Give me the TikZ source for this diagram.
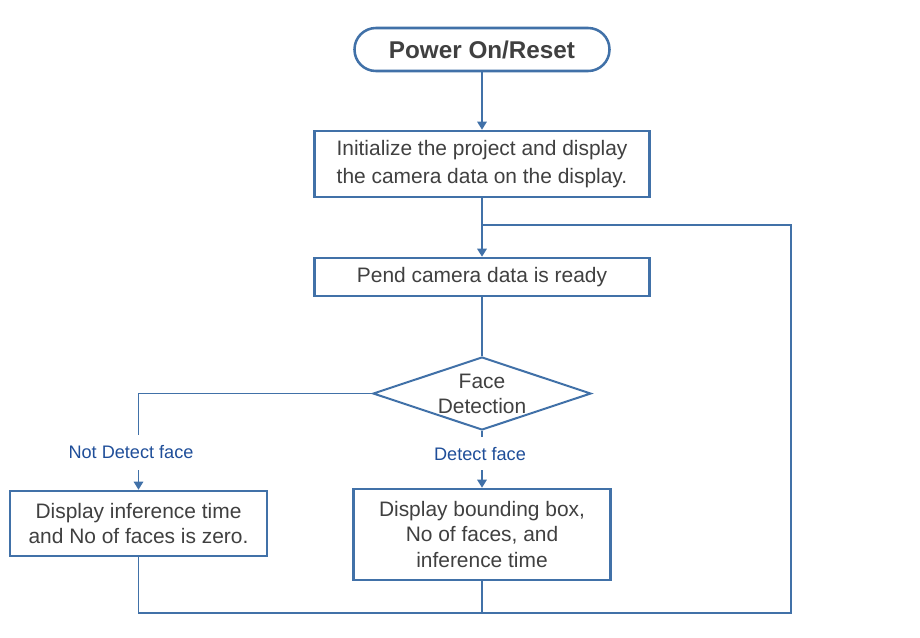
\documentclass[tikz,border=0pt]{standalone}
\usepackage{fontspec}
\setmainfont{Liberation Sans}
\usetikzlibrary{shapes.geometric,arrows.meta}
\definecolor{lineblue}{RGB}{65,113,168}
\definecolor{txtgray}{RGB}{64,64,64}
\definecolor{lblblue}{RGB}{31,78,153}
\tikzset{
  boxstyle/.style={draw=lineblue, line width=1.9pt, fill=white, text=txtgray, align=center,
    inner sep=2pt, font=\fontsize{15.7}{19}\selectfont},
  conn/.style={draw=lineblue, line width=1.3pt},
  arr/.style={conn, -{Triangle[width=7pt,length=6pt]}},
  lbl/.style={text=lblblue, font=\fontsize{13.6}{16}\selectfont, inner sep=1pt}
}
\begin{document}
\begin{tikzpicture}[x=0.75pt,y=-0.75pt]
\useasboundingbox (0,0) rectangle (920,637);
\node[boxstyle, rounded corners=16pt, minimum width=191.25pt, minimum height=32.25pt,
  font=\fontsize{18.2}{22}\selectfont\bfseries] (start) at (482,49.5) {Power On/Reset};
\node[boxstyle, minimum width=251.25pt, minimum height=49.5pt, font=\fontsize{15.7}{21}\selectfont] (init) at (482,164)
  {Initialize the project and display\\the camera data on the display.};
\node[boxstyle, minimum width=251.25pt, minimum height=28.5pt] (pend) at (482,277)
  {Pend camera data is ready};
\node[boxstyle, diamond, aspect=3, inner sep=0pt, minimum width=163.5pt, minimum height=54.75pt,
  line width=1.5pt] (dia) at (482,393.5) {};
\node[text=txtgray, align=center, font=\fontsize{15.7}{18.75}\selectfont] (diatxt) at (dia.center) {Face\\Detection};
\node[boxstyle, minimum width=192.75pt, minimum height=48.75pt] (nobox) at (138.5,523.5)
  {Display inference time\\and No of faces is zero.};
\node[boxstyle, minimum width=192.75pt, minimum height=68.25pt] (yesbox) at (482,534.5)
  {Display bounding box,\\No of faces, and\\inference time};
\node[lbl] (nolbl) at (131,452) {Not Detect face};
\node[lbl] (yeslbl) at (480,454) {Detect face};
\coordinate (noa) at (138.5,435);
\coordinate (nob) at (138.5,470);
\coordinate (yesa) at (482,437);
\coordinate (yesb) at (482,470);
\coordinate (join) at (482,225);
\coordinate (loopT) at (791,225);
\coordinate (loopB) at (791,613);
% connectors
\draw[arr] (start.south) -- (init.north);
\draw[conn] (init.south) -- (join);
\draw[arr, line width=2pt] (join) -- (pend.north);
\draw[conn] (pend.south) -- (dia.north);
\draw[conn] (dia.west) -| (noa);
\draw[arr] (nob) -- (nobox.north);
\draw[conn] (dia.south) -- (yesa);
\draw[arr] (yesb) -- (yesbox.north);
\draw[conn] (nobox.south) |- (loopB) -- (loopT) -- (join);
\draw[conn] (yesbox.south) -- (yesbox.south |- loopB);
\end{tikzpicture}
\end{document}
